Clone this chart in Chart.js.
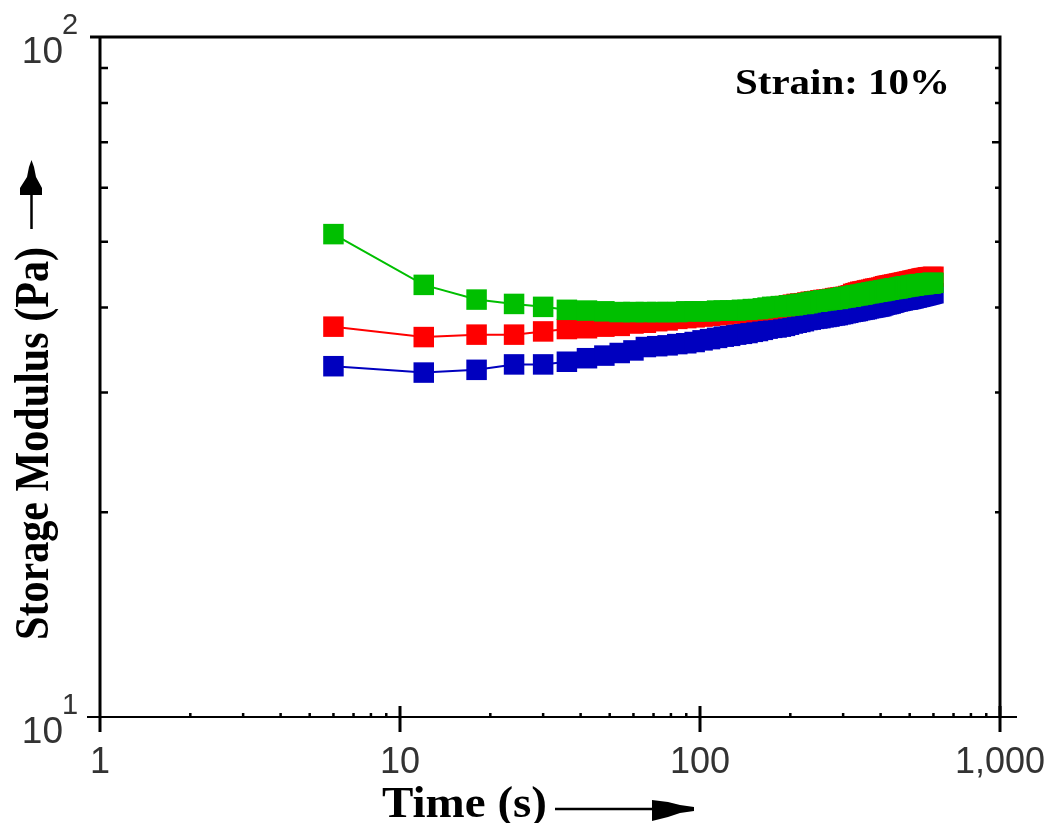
<!DOCTYPE html>
<html>
<head>
<meta charset="utf-8">
<script src="https://cdn.jsdelivr.net/npm/chart.js@4/dist/chart.umd.min.js"></script>
<style>
html,body{margin:0;padding:0;background:#fff;}
canvas{display:block;}
</style>
</head>
<body>
<canvas id="c" width="1055" height="823"></canvas>
<script>
// ---- data ----
const timeS = [6,12,18,24,30,36,42,48,54,60,
  66,72,78,84,90,96,102,108,114,120,
  126,132,138,144,150,156,162,168,174,180,
  186,192,198,204,210,216,222,228,234,240,
  246,252,258,264,270,276,282,288,294,300,
  306,312,318,324,330,336,342,348,354,360,
  366,372,378,384,390,396,402,408,414,420,
  426,432,438,444,450,456,462,468,474,480,
  486,492,498,504,510,516,522,528,534,540,
  546,552,558,564,570,576,582,588,594,600];

const greenG = [51.3,43.2,41.1,40.5,40.1,39.7,39.6,39.5,39.4,39.4,
  39.4,39.4,39.4,39.4,39.5,39.5,39.5,39.5,39.6,39.6,
  39.6,39.6,39.7,39.7,39.8,39.8,39.9,40.0,40.1,40.1,
  40.2,40.2,40.3,40.3,40.4,40.5,40.5,40.6,40.7,40.8,
  40.8,40.9,41.0,41.0,41.1,41.1,41.2,41.2,41.3,41.4,
  41.4,41.5,41.5,41.6,41.7,41.7,41.8,41.8,41.9,42.0,
  42.0,42.1,42.1,42.2,42.2,42.3,42.3,42.4,42.4,42.5,
  42.5,42.6,42.6,42.7,42.7,42.7,42.8,42.8,42.9,42.9,
  43.0,43.0,43.0,43.1,43.1,43.1,43.2,43.2,43.2,43.3,
  43.3,43.3,43.3,43.4,43.4,43.4,43.4,43.4,43.5,43.5];

const redG = [37.5,36.2,36.5,36.5,36.9,37.2,37.3,37.5,37.6,37.9,
  38.0,38.2,38.3,38.5,38.6,38.7,38.8,38.9,39.0,39.1,
  39.2,39.3,39.4,39.5,39.6,39.65,39.7,39.8,39.9,40.0,
  40.1,40.2,40.3,40.4,40.5,40.55,40.6,40.7,40.8,40.85,
  40.9,41.0,41.05,41.1,41.15,41.2,41.3,41.35,41.4,41.45,
  41.5,41.6,41.7,41.9,42.0,42.1,42.2,42.25,42.3,42.4,
  42.45,42.5,42.6,42.65,42.7,42.75,42.8,42.9,43.0,43.05,
  43.1,43.15,43.2,43.25,43.3,43.35,43.4,43.45,43.5,43.55,
  43.6,43.65,43.7,43.75,43.8,43.85,43.9,43.95,44.0,44.05,
  44.1,44.15,44.2,44.2,44.25,44.3,44.3,44.35,44.35,44.4];

const blueG = [32.8,32.1,32.4,33.0,33.0,33.3,33.7,34.0,34.3,34.6,
  35.0,35.1,35.2,35.35,35.45,35.6,35.8,35.95,36.1,36.25,
  36.35,36.5,36.6,36.7,36.85,36.95,37.1,37.25,37.35,37.4,
  37.5,37.6,37.75,37.9,38.0,38.1,38.2,38.35,38.4,38.5,
  38.55,38.6,38.7,38.75,38.8,38.9,38.95,39.0,39.1,39.15,
  39.25,39.3,39.4,39.45,39.5,39.55,39.65,39.7,39.75,39.8,
  39.9,39.95,40.0,40.05,40.1,40.15,40.2,40.3,40.4,40.45,
  40.5,40.55,40.65,40.7,40.8,40.85,40.9,40.95,41.0,41.05,
  41.1,41.1,41.15,41.2,41.25,41.3,41.35,41.4,41.45,41.5,
  41.55,41.6,41.65,41.7,41.75,41.8,41.85,41.9,41.95,42.0];

const xMajorTicks = [1, 10, 100, 1000];
const xMajorLabels = ['1', '10', '100', '1,000'];
const xMinorTicks = [2,3,4,5,6,7,8,9,20,30,40,50,60,70,80,90,200,300,400,500,600,700,800,900];
const yMajorTicks = [10, 100];
const yMajorExp = ['1', '2'];
const yMinorTicks = [20,30,40,50,60,70,80,90];

const xTitle = 'Time (s)';
const yTitle = 'Storage Modulus (Pa)';
const note = 'Strain: 10%';

function pts(ys){ return timeS.map((t,i)=>({x:t, y:ys[i]})); }

function fitText(ctx, text, x, y, w, font){
  ctx.save();
  ctx.font = font;
  const m = ctx.measureText(text).width;
  ctx.translate(x, y);
  ctx.scale(w / m, 1);
  ctx.textAlign = 'left';
  ctx.textBaseline = 'alphabetic';
  ctx.fillText(text, 0, 0);
  ctx.restore();
}

const decor = {
  id: 'decor',
  afterDraw(chart){
    const ctx = chart.ctx;
    const xs = chart.scales.x, ys = chart.scales.y;
    const L = xs.getPixelForValue(1), R = xs.getPixelForValue(1000);
    const T = ys.getPixelForValue(100), B = ys.getPixelForValue(10);
    ctx.save();
    ctx.strokeStyle = '#000';
    ctx.fillStyle = '#000';
    ctx.lineCap = 'butt';
    // frame
    ctx.lineWidth = 3;
    ctx.beginPath();
    ctx.moveTo(L - 10, T); ctx.lineTo(R + 1.5, T);
    ctx.moveTo(R, T); ctx.lineTo(R, B);
    ctx.moveTo(L, T - 1.5); ctx.lineTo(L, B + 15);
    ctx.stroke();
    ctx.lineWidth = 2;
    ctx.beginPath();
    ctx.moveTo(L - 13, B); ctx.lineTo(R + 17, B);
    ctx.stroke();
    // x major ticks
    ctx.lineWidth = 3;
    ctx.beginPath();
    xMajorTicks.forEach(v => {
      if (v === 1) return;
      const px = xs.getPixelForValue(v);
      ctx.moveTo(px, B - 11); ctx.lineTo(px, B + 15);
    });
    ctx.stroke();
    // x minor ticks
    ctx.lineWidth = 2.5;
    ctx.beginPath();
    xMinorTicks.forEach(v => {
      const px = xs.getPixelForValue(v);
      ctx.moveTo(px, B - 4); ctx.lineTo(px, B);
    });
    ctx.stroke();
    // y minor ticks, left and right
    ctx.lineWidth = 2.5;
    ctx.beginPath();
    yMinorTicks.forEach(v => {
      const py = ys.getPixelForValue(v);
      ctx.moveTo(L, py); ctx.lineTo(L + 8, py);
      const len = (v === 70) ? 8 : 5;
      ctx.moveTo(R, py); ctx.lineTo(R - len, py);
    });
    ctx.stroke();

    // x tick labels
    ctx.fillStyle = '#333';
    ctx.font = '36px "Liberation Sans", Arial, sans-serif';
    ctx.textAlign = 'center';
    ctx.textBaseline = 'alphabetic';
    xMajorTicks.forEach((v, i) => {
      ctx.fillText(xMajorLabels[i], xs.getPixelForValue(v), B + 56);
    });
    // y tick labels 10^n
    yMajorTicks.forEach((v, i) => {
      const py = ys.getPixelForValue(v);
      ctx.font = '37px "Liberation Sans", Arial, sans-serif';
      ctx.textAlign = 'right';
      ctx.fillText('10', 63, py + 26);
      ctx.font = '29px "Liberation Sans", Arial, sans-serif';
      ctx.textAlign = 'left';
      ctx.fillText(yMajorExp[i], 62, py - 3);
    });

    // titles
    ctx.fillStyle = '#000';
    fitText(ctx, xTitle, 382, 817, 165, 'bold 45px "Liberation Serif", "Times New Roman", serif');
    fitText(ctx, note, 735, 94, 215, 'bold 36px "Liberation Serif", "Times New Roman", serif');
    ctx.save();
    ctx.translate(48, 640);
    ctx.rotate(-Math.PI / 2);
    fitText(ctx, yTitle, 0, 0, 393, 'bold 49px "Liberation Serif", "Times New Roman", serif');
    ctx.restore();

    // x title arrow
    ctx.lineWidth = 2.5;
    ctx.beginPath();
    ctx.moveTo(555, 809); ctx.lineTo(655, 809);
    ctx.stroke();
    ctx.beginPath();
    ctx.moveTo(652, 800); ctx.lineTo(668, 802); ctx.lineTo(680, 805);
    ctx.lineTo(694, 807); ctx.lineTo(694, 811); ctx.lineTo(680, 813);
    ctx.lineTo(668, 817); ctx.lineTo(652, 821);
    ctx.closePath();
    ctx.fill();
    // y title arrow
    ctx.beginPath();
    ctx.moveTo(31.5, 193); ctx.lineTo(31.5, 229);
    ctx.stroke();
    ctx.beginPath();
    ctx.moveTo(31.5, 160); ctx.lineTo(34, 167); ctx.lineTo(36, 177);
    ctx.lineTo(42, 188); ctx.lineTo(42, 195); ctx.lineTo(20, 195);
    ctx.lineTo(20, 188); ctx.lineTo(27, 177); ctx.lineTo(29, 167);
    ctx.closePath();
    ctx.fill();
    ctx.restore();
  }
};

function ds(label, ys, color){
  return {
    label: label,
    data: pts(ys),
    showLine: true,
    borderColor: color,
    backgroundColor: color,
    borderWidth: 2,
    pointStyle: 'rect',
    pointRadius: 14.5,
    pointHoverRadius: 14.5,
    pointBorderWidth: 0,
    pointBackgroundColor: color,
    tension: 0,
    clip: false
  };
}

new Chart(document.getElementById('c'), {
  type: 'scatter',
  data: {
    datasets: [
      ds('Green', greenG, '#00bf00'),
      ds('Red', redG, '#ff0000'),
      ds('Blue', blueG, '#0000bf')
    ]
  },
  options: {
    responsive: false,
    animation: false,
    devicePixelRatio: 1,
    layout: { padding: { left: 100, right: 55, top: 37, bottom: 106 } },
    plugins: { legend: { display: false }, tooltip: { enabled: false } },
    scales: {
      x: { type: 'logarithmic', min: 1, max: 1000, display: false },
      y: { type: 'logarithmic', min: 10, max: 100, display: false }
    }
  },
  plugins: [decor]
});
</script>
</body>
</html>
